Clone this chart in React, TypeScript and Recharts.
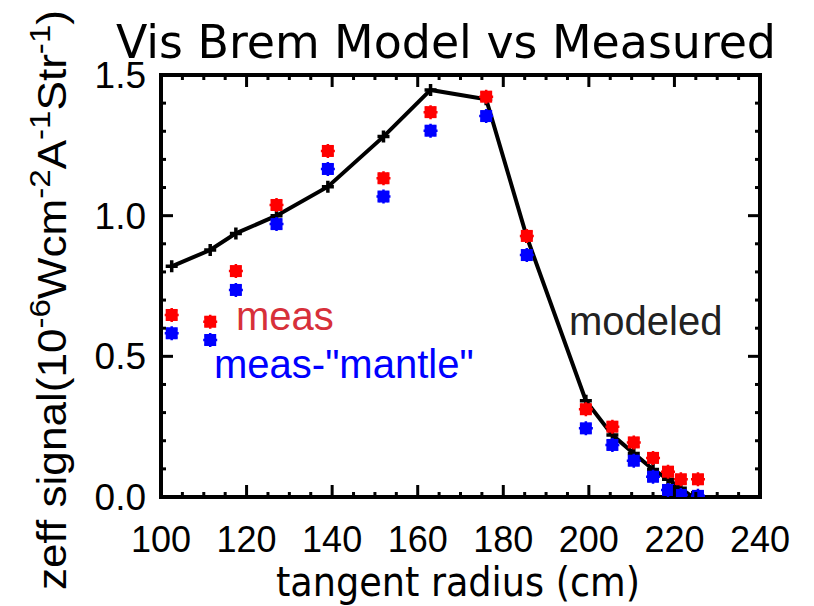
import React from "react";
import {
  ComposedChart,
  Line,
  Scatter,
  XAxis,
  YAxis,
  ReferenceArea,
} from "recharts";

// tangent radius (cm) of each chord
const MODEL_R = [102.5, 111.5, 117.5, 127, 139, 152, 163, 176, 185.5, 199.3, 205.5, 210.5, 215, 218.5, 221.5, 224.3];
const MODEL_SIGNAL = [0.82, 0.878, 0.937, 1.0, 1.103, 1.281, 1.447, 1.414, 0.924, 0.342, 0.22, 0.155, 0.098, 0.063, 0.031, 0.0];

const MEAS_R = [102.5, 111.5, 117.5, 127, 139, 152, 163, 176, 185.5, 199.3, 205.5, 210.5, 215, 218.5, 221.5, 225.5];
const MEAS_SIGNAL = [0.647, 0.623, 0.803, 1.038, 1.23, 1.133, 1.368, 1.423, 0.928, 0.312, 0.25, 0.194, 0.139, 0.09, 0.063, 0.063];
const MANTLE_SIGNAL = [0.582, 0.558, 0.736, 0.97, 1.166, 1.068, 1.302, 1.354, 0.86, 0.244, 0.185, 0.129, 0.072, 0.025, 0.007, 0.004];

const X_MAJOR = [100, 120, 140, 160, 180, 200, 220, 240];
const Y_MAJOR = [0.0, 0.5, 1.0, 1.5];

const X_TICKS: number[] = [];
for (let v = 100; v <= 240; v += 5) X_TICKS.push(v);
const Y_TICKS: number[] = [];
for (let i = 0; i <= 15; i++) Y_TICKS.push(+(i * 0.1).toFixed(1));

const modelData = MODEL_R.map((x, i) => ({ x, y: MODEL_SIGNAL[i] }));
const measData = MEAS_R.map((x, i) => ({ x, y: MEAS_SIGNAL[i] }));
const mantleData = MEAS_R.map((x, i) => ({ x, y: MANTLE_SIGNAL[i] }));

const W = 814;
const H = 606;
const PLOT_TOP = 75;
const PLOT_LEFT = 161;
const PLOT_RIGHT = 760;
const PLOT_BOTTOM = 497;
const X_AXIS_H = 40;
const Y_AXIS_W = 60;

const TICK_FONT = "'Liberation Sans', Arial, Helvetica, sans-serif";
const TITLE_FONT = "'DejaVu Sans Condensed', 'Liberation Sans Narrow', sans-serif";

function XTick(props: any) {
  const { x, y, payload } = props;
  const v = payload.value;
  const major = X_MAJOR.includes(v);
  const len = major ? 12 : 5;
  return (
    <g>
      <line x1={x} x2={x} y1={y} y2={y - len} stroke="#000" strokeWidth={3} />
      <line x1={x} x2={x} y1={PLOT_TOP} y2={PLOT_TOP + len} stroke="#000" strokeWidth={3} />
      {major && (
        <text x={x} y={y + 55} textAnchor="middle" fontFamily={TICK_FONT} fontSize={36} fill="#000">
          {v}
        </text>
      )}
    </g>
  );
}

function YTick(props: any) {
  const { x, y, payload } = props;
  const v = payload.value;
  const major = Y_MAJOR.some((m) => Math.abs(m - v) < 1e-6);
  const len = major ? 12 : 5;
  return (
    <g>
      <line x1={x} x2={x + len} y1={y} y2={y} stroke="#000" strokeWidth={3} />
      <line x1={PLOT_RIGHT} x2={PLOT_RIGHT - len} y1={y} y2={y} stroke="#000" strokeWidth={3} />
      {major && (
        <text x={x - 15} y={y + 13} textAnchor="end" fontFamily={TICK_FONT} fontSize={37} fill="#000">
          {v.toFixed(1)}
        </text>
      )}
    </g>
  );
}

function PlusDot(props: any) {
  const { cx, cy, index } = props;
  return (
    <path
      key={index}
      d={`M${cx - 6},${cy} h12 M${cx},${cy - 6} v12`}
      stroke="#000"
      strokeWidth={3.5}
      fill="none"
    />
  );
}

function starShape(color: string) {
  return (props: any) => {
    const { cx, cy } = props;
    const r = 7;
    const d = 5;
    return (
      <g>
        <rect x={cx - 6} y={cy - 6} width={12} height={12} fill={color} />
        <path
          d={`M${cx - r},${cy} h${2 * r} M${cx},${cy - r} v${2 * r} M${cx - d},${cy - d} L${cx + d},${cy + d} M${cx - d},${cy + d} L${cx + d},${cy - d}`}
          stroke={color}
          strokeWidth={2.5}
        />
      </g>
    );
  };
}

export default function App() {
  return (
    <div style={{ position: "absolute", left: 0, top: 0, width: W, height: H, background: "#fff" }}>
      <ComposedChart
        width={W}
        height={H}
        margin={{
          top: PLOT_TOP,
          right: W - PLOT_RIGHT,
          bottom: H - PLOT_BOTTOM - X_AXIS_H,
          left: PLOT_LEFT - Y_AXIS_W,
        }}
      >
        <XAxis
          type="number"
          dataKey="x"
          domain={[100, 240]}
          ticks={X_TICKS}
          interval={0}
          tick={<XTick />}
          tickSize={0}
          tickMargin={0}
          tickLine={false}
          axisLine={false}
          height={X_AXIS_H}
          allowDataOverflow
        />
        <YAxis
          type="number"
          dataKey="y"
          domain={[0, 1.5]}
          ticks={Y_TICKS}
          interval={0}
          tick={<YTick />}
          tickSize={0}
          tickMargin={0}
          tickLine={false}
          axisLine={false}
          width={Y_AXIS_W}
          allowDataOverflow
        />
        <ReferenceArea
          x1={100}
          x2={240}
          y1={0}
          y2={1.5}
          fill="none"
          fillOpacity={0}
          stroke="#000"
          strokeWidth={4}
          ifOverflow="visible"
        />
        <Line
          data={modelData}
          dataKey="y"
          stroke="#000"
          strokeWidth={4}
          dot={PlusDot}
          activeDot={false}
          isAnimationActive={false}
        />
        <Scatter data={measData} dataKey="y" fill="#ff0000" shape={starShape("#ff0000")} isAnimationActive={false} />
        <Scatter data={mantleData} dataKey="y" fill="#0000ff" shape={starShape("#0000ff")} isAnimationActive={false} />
      </ComposedChart>

      <svg
        width={W}
        height={H}
        style={{ position: "absolute", left: 0, top: 0, pointerEvents: "none" }}
      >
        <text x={116} y={58} fontFamily={TITLE_FONT} fontSize={46} fill="#000" textLength={660} lengthAdjust="spacingAndGlyphs">
          Vis Brem Model vs Measured
        </text>
        <text x={458} y={596} textAnchor="middle" fontFamily={TITLE_FONT} fontSize={40} fill="#000" textLength={364} lengthAdjust="spacingAndGlyphs">
          tangent radius (cm)
        </text>
        <text
          transform="translate(66, 300) rotate(-90)"
          textAnchor="middle"
          fontFamily={TICK_FONT}
          fontSize={40}
          fill="#000"
          textLength={580}
          lengthAdjust="spacingAndGlyphs"
        >
          zeff signal(10
          <tspan fontSize={30} dy={-16}>-6</tspan>
          <tspan dy={16}>Wcm</tspan>
          <tspan fontSize={30} dy={-16}>-2</tspan>
          <tspan dy={16}>A</tspan>
          <tspan fontSize={30} dy={-16}>-1</tspan>
          <tspan dy={16}>Str</tspan>
          <tspan fontSize={30} dy={-16}>-1</tspan>
          <tspan dy={16}>)</tspan>
        </text>
        <text x={236} y={330} fontFamily={TICK_FONT} fontSize={40} fill="#d7303a">
          meas
        </text>
        <text x={214} y={378} fontFamily={TICK_FONT} fontSize={40} fill="#0000ff">
          meas-"mantle"
        </text>
        <text x={569} y={335} fontFamily={TICK_FONT} fontSize={40} fill="#222222">
          modeled
        </text>
      </svg>
    </div>
  );
}
